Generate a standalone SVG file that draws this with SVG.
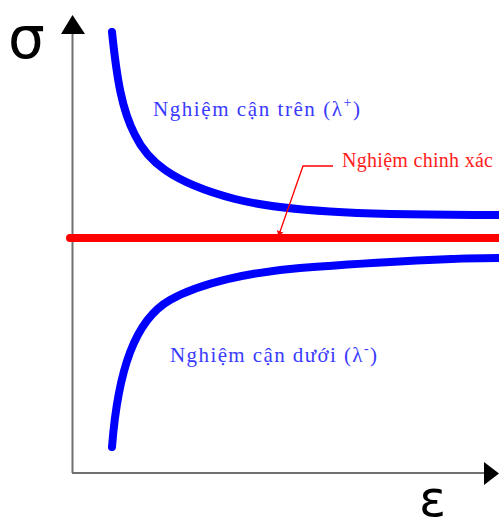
<svg xmlns="http://www.w3.org/2000/svg" width="499" height="523" viewBox="0 0 499 523">
<style>
.axis{stroke:#707070;stroke-width:2;fill:none}
.curve{stroke:#0000ff;stroke-width:8;fill:none;stroke-linecap:round;stroke-linejoin:round}
.lbl{font-family:"Liberation Serif",serif;font-size:21px;fill:#3a3aff}
.sym{font-family:"DejaVu Sans","Liberation Sans",sans-serif;fill:#000}
</style>
<defs>
<marker id="ar" viewBox="0 0 10 10" refX="10" refY="5" markerWidth="5" markerHeight="7" markerUnits="userSpaceOnUse" orient="auto" preserveAspectRatio="none">
<path d="M0,0 L10,5 L0,10 z" fill="#ff0000"/>
</marker>
</defs>
<g id="axes">
<line class="axis" x1="72.5" y1="30" x2="72.5" y2="473"/>
<line class="axis" x1="72" y1="473" x2="486" y2="473"/>
<polygon points="72.5,15 61,34 85,34" fill="#000"/>
<polygon points="499,473.5 484,462 484,485" fill="#000"/>
<text class="sym" x="8" y="58" font-size="58">σ</text>
<text class="sym" x="419" y="516" font-size="50">ε</text>
</g>
<g id="exact">
<line x1="70" y1="238" x2="499" y2="238" stroke="#ff0000" stroke-width="8" stroke-linecap="round"/>
</g>
<g id="upper">
<path class="curve" d="M112,32 C117,80 122,110 135,135 C147,160 170,182 235,199 C290,213 380,215 499,215"/>
</g>
<g id="lower">
<path class="curve" d="M112,447 C118,370 135,320 170,300 C200,283 250,272 300,268 C380,262 440,258 499,258"/>
</g>
<g id="connectors">
<polyline points="333,166 303,166 278.5,236" fill="none" stroke="#ff0000" stroke-width="1.3" marker-end="url(#ar)"/>
</g>
<g id="labels">
<text class="lbl" x="153" y="116" textLength="207" lengthAdjust="spacing">Nghiệm cận trên (λ<tspan dy="-9" font-size="14">+</tspan><tspan dy="9">)</tspan></text>
<text class="lbl" x="170" y="362" textLength="207" lengthAdjust="spacing">Nghiệm cận dưới (λ<tspan dy="-9" font-size="14">-</tspan><tspan dy="9">)</tspan></text>
<text x="342" y="167" font-family="Liberation Serif, serif" font-size="20" fill="#ff2020" textLength="151" lengthAdjust="spacing">Nghiệm chinh xác</text>
</g>
</svg>
